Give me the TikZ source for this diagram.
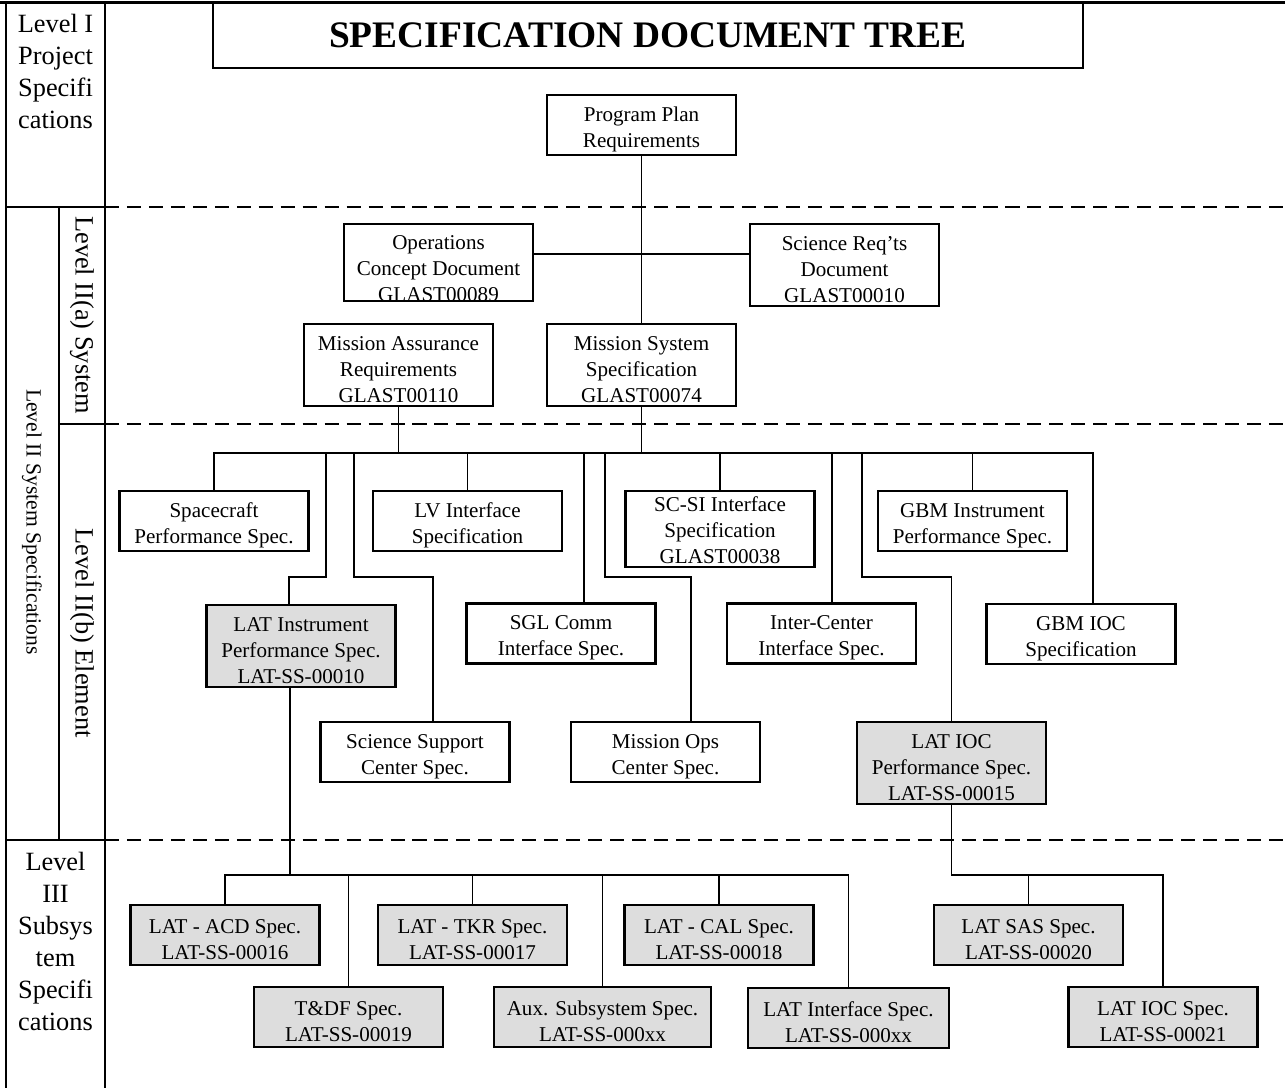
\documentclass[tikz,border=0pt]{standalone}
\usepackage{fontspec}
\setmainfont{Liberation Serif}
\definecolor{latgray}{RGB}{221,221,221}
\newcommand\specstrut{\rule{0pt}{13pt}}

\begin{document}
\begin{tikzpicture}[x=0.02cm,y=-0.02cm,
    spec/.style={draw,line width=1.3pt,align=center,inner sep=0pt,
      minimum width=3.78cm,minimum height=1.2cm,
      font=\fontsize{12}{14.8}\selectfont},
    tall/.style={minimum height=1.64cm},
    latspec/.style={spec,fill=latgray},
    wire/.style={line width=1pt},
    band/.style={line width=1.1pt,dash pattern=on 8pt off 4.5pt},
    colline/.style={line width=1.2pt},
    lvl/.style={align=center,inner sep=0pt,font=\fontsize{15}{18.2}\selectfont}]
  \useasboundingbox (0,0) rectangle (1285,1088);

  % frame and level bands
  \draw[line width=2pt] (0,2.5) -- (1285,2.5);
  \draw[colline] (6,2.5) -- (6,1088);
  \draw[colline] (105,2.5) -- (105,1088);
  \draw[colline] (59,207) -- (59,840);
  \draw[colline] (6,207) -- (105,207);
  \draw[colline] (59,424) -- (105,424);
  \draw[colline] (6,840) -- (105,840);
  \draw[band] (105,207) -- (1285,207);
  \draw[band] (105,424) -- (1285,424);
  \draw[band] (105,840) -- (1285,840);

  \node[lvl,anchor=north] (lvlone) at (55.5,14) {Level I\\Project\\Specifi\\cations};
  \node[lvl,rotate=-90] (lvltwoa) at (82,315) {Level II(a) System};
  \node[lvl,rotate=-90] (lvltwob) at (82,633) {Level II(b) Element};
  \node[lvl,rotate=-90,font=\fontsize{12.3}{14}\selectfont] (lvltwo) at (32,522) {Level II System Specifications};
  \node[lvl,anchor=north] (lvlthree) at (55.5,852) {Level\\III\\Subsys\\tem\\Specifi\\cations};

  \node[draw,line width=1.3pt,fill=white,inner sep=0pt,minimum width=17.4cm,minimum height=1.3cm,
    font=\bfseries\fontsize{21.3}{25}\selectfont] (title) at (648,35.5) {SPECIFICATION DOCUMENT TREE};

  % level I and II(a)
  \node[spec] (plan) at (641.5,125) {\specstrut Program Plan\\Requirements};
  \node[spec,minimum height=1.54cm] (ops) at (438.5,262.5) {};
  \node[align=center,inner sep=0pt,font=\fontsize{12}{14.8}\selectfont] (opstext) at ([yshift=-3.6pt]ops.center) {Operations\\Concept Document\\GLAST00089};
  \node[spec,tall] (sci) at (844.5,265) {\specstrut Science Req'ts\\Document\\GLAST00010};
  \node[spec,tall] (ma) at (398.5,365) {\specstrut Mission Assurance\\Requirements\\GLAST00110};
  \node[spec,tall] (ms) at (641.5,365) {\specstrut Mission System\\Specification\\GLAST00074};

  % level II(b)
  \node[spec] (scp) at (214,521) {\specstrut Spacecraft\\Performance Spec.};
  \node[spec] (lv) at (467.5,521) {\specstrut LV Interface\\Specification};
  \node[spec,minimum height=1.52cm] (scsi) at (720,529) {\rule{0pt}{10pt}SC-SI Interface\\Specification\\GLAST00038};
  \node[spec] (gbmi) at (972.5,521) {\specstrut GBM Instrument\\Performance Spec.};
  \node[latspec,tall] (lati) at (301,646) {\specstrut LAT Instrument\\Performance Spec.\\LAT-SS-00010};
  \node[spec] (sgl) at (561,633.5) {\specstrut SGL Comm\\Interface Spec.};
  \node[spec] (icc) at (821.5,633.5) {\specstrut Inter-Center\\Interface Spec.};
  \node[spec] (gbmioc) at (1081,634) {\specstrut GBM IOC\\Specification};
  \node[spec] (ssc) at (415,752) {\specstrut Science Support\\Center Spec.};
  \node[spec] (moc) at (665.5,752) {\specstrut Mission Ops\\Center Spec.};
  \node[latspec,tall] (latioc) at (951.5,763) {\specstrut LAT IOC\\Performance Spec.\\LAT-SS-00015};

  % level III
  \node[latspec] (acd) at (225,935) {\specstrut LAT - ACD Spec.\\LAT-SS-00016};
  \node[latspec] (tkr) at (472.5,935) {\specstrut LAT - TKR Spec.\\LAT-SS-00017};
  \node[latspec] (cal) at (719,935) {\specstrut LAT - CAL Spec.\\LAT-SS-00018};
  \node[latspec] (sas) at (1028.5,935) {\specstrut LAT SAS Spec.\\LAT-SS-00020};
  \node[latspec] (tdf) at (348.5,1017) {\specstrut T\&DF Spec.\\LAT-SS-00019};
  \node[latspec,minimum width=4.34cm] (aux) at (602.5,1017) {\specstrut Aux. Subsystem Spec.\\LAT-SS-000xx};
  \node[latspec,minimum width=4.02cm] (latif) at (848.5,1018) {\specstrut LAT Interface Spec.\\LAT-SS-000xx};
  \node[latspec] (latiocs) at (1163,1017) {\specstrut LAT IOC Spec.\\LAT-SS-00021};

  % connectors, top
  \coordinate (opsbar) at (0,254);
  \draw[wire] (plan.south) -- (ms.north);
  \draw[wire] (ops.east |- opsbar) -- (sci.west |- opsbar);

  % element bus
  \coordinate (busE) at (0,453);
  \coordinate (jogE) at (0,577);
  \coordinate (tapLI) at (326,453);
  \coordinate (tapSS) at (354,453);
  \coordinate (tapMO) at (605,453);
  \coordinate (tapLC) at (862,453);
  \draw[wire] (scp.north) -- (scp.north |- busE) -| ([xshift=0.24cm]gbmioc.north);
  \draw[wire] (ma.south) -- (ma.south |- busE);
  \draw[wire] (ms.south) -- (ms.south |- busE);
  \draw[wire] (lv.north |- busE) -- (lv.north);
  \draw[wire] (scsi.north |- busE) -- (scsi.north);
  \draw[wire] (gbmi.north |- busE) -- (gbmi.north);
  \draw[wire] ([xshift=0.46cm]sgl.north |- busE) -- ([xshift=0.46cm]sgl.north);
  \draw[wire] ([xshift=0.21cm]icc.north |- busE) -- ([xshift=0.21cm]icc.north);
  \draw[wire] (tapLI) -- (tapLI |- jogE) -| ([xshift=-0.24cm]lati.north);
  \draw[wire] (tapSS) -- (tapSS |- jogE) -| ([xshift=0.36cm]ssc.north);
  \draw[wire] (tapMO) -- (tapMO |- jogE) -| ([xshift=0.51cm]moc.north);
  \draw[wire] (tapLC) -- (tapLC |- jogE) -| (latioc.north);

  % subsystem bus
  \coordinate (busS) at (0,875);
  \draw[wire] ([xshift=-0.22cm]lati.south) -- ([xshift=-0.22cm]lati.south |- busS);
  \draw[wire] (acd.north) -- (acd.north |- busS) -| (latif.north);
  \draw[wire] (tdf.north |- busS) -- (tdf.north);
  \draw[wire] (tkr.north |- busS) -- (tkr.north);
  \draw[wire] (aux.north |- busS) -- (aux.north);
  \draw[wire] (cal.north |- busS) -- (cal.north);
  \draw[wire] (latioc.south) -- (latioc.south |- busS) -| (latiocs.north);
  \draw[wire] (sas.north |- busS) -- (sas.north);
\end{tikzpicture}
\end{document}
